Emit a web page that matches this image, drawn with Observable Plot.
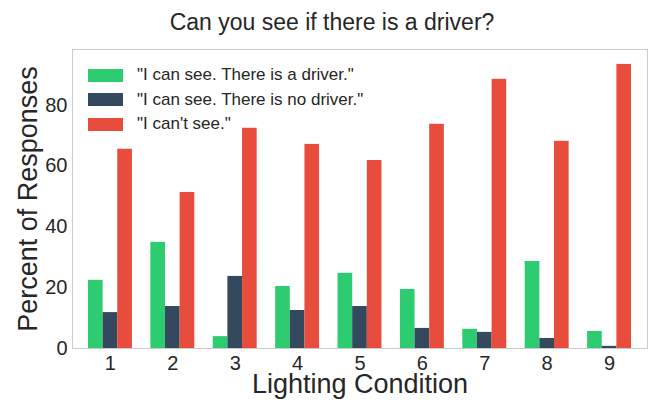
<!DOCTYPE html>
<html>
<head>
<meta charset="utf-8">
<script src="https://cdn.jsdelivr.net/npm/d3@7"></script>
<script src="https://cdn.jsdelivr.net/npm/@observablehq/plot@0.6"></script>
<style>
  body { margin: 0; background: white; }
  #wrap { position: relative; width: 654px; height: 403px; font-family: "Liberation Sans", Arial, sans-serif; color: #262626; }
  #title { height: 44px; line-height: 44px; text-align: center; font-size: 23px; padding-left: 10px; }
  #legend { position: absolute; left: 88px; top: 63px; }
  .row { display: flex; align-items: center; height: 24.5px; font-size: 17px; }
  .sw { width: 35px; height: 13px; margin-right: 14px; }
  svg { display: block; }
</style>
</head>
<body>
<div id="wrap">
  <div id="title">Can you see if there is a driver?</div>
  <div id="chart"></div>
  <div id="legend"></div>
</div>
<script>
const conditions = ["1", "2", "3", "4", "5", "6", "7", "8", "9"];
const seriesNames = ['"I can see. There is a driver."', '"I can see. There is no driver."', '"I can\'t see."'];
const driverSeen = [22.4, 34.9, 3.9, 20.4, 24.7, 19.4, 6.3, 28.6, 5.6];
const noDriver   = [11.8, 13.8, 23.7, 12.5, 13.8, 6.6, 5.3, 3.3, 0.7];
const cantSee    = [65.5, 51.3, 72.4, 67.1, 61.8, 73.7, 88.5, 68.1, 93.4];
const colors = ["#2ecc71", "#34495e", "#e74c3c"];
const yTicks = [0, 20, 40, 60, 80];
const yLabel = "Percent of Responses";
const xLabel = "Lighting Condition";

const W = 654, H = 359, mL = 72, mR = 7, mT = 5, mB = 55;
const padInner = 0.296, padOuter = 0.256;
// same band geometry as Plot's x scale, used only to split each band into three sub-bars
const band = d3.scaleBand().domain(conditions).range([mL, W - mR]).paddingInner(padInner).paddingOuter(padOuter);
const sub = band.bandwidth() / seriesNames.length;

const seriesValues = [driverSeen, noDriver, cantSee];
const textColor = "#262626";

const barMarks = seriesNames.map((s, j) => {
  const data = conditions.map((c, i) => ({condition: c, series: s, value: seriesValues[j][i]}));
  return Plot.barY(data, {
    x: "condition", y: "value", fill: "series",
    insetLeft: j * sub, insetRight: (seriesNames.length - 1 - j) * sub
  });
});

const chart = Plot.plot({
  width: W,
  height: H,
  marginTop: mT,
  marginBottom: mB,
  marginLeft: mL,
  marginRight: mR,
  style: {fontFamily: '"Liberation Sans", Arial, sans-serif', color: textColor, background: "white"},
  x: {type: "band", domain: conditions, paddingInner: padInner, paddingOuter: padOuter, round: false, label: null},
  y: {domain: [0, 98.3], label: null},
  color: {domain: seriesNames, range: colors},
  marks: [
    ...barMarks,
    Plot.axisY({ticks: yTicks, tickSize: 0, tickPadding: 5, fontSize: 20, label: null, fill: textColor}),
    Plot.axisX({tickSize: 0, tickPadding: 7, fontSize: 20, label: null, fill: textColor}),
    Plot.frame({stroke: "#cccccc"}),
    Plot.text([yLabel], {text: d => d, frameAnchor: "left", textAnchor: "middle", lineAnchor: "middle", rotate: -90, dx: -44, fontSize: 27, fill: textColor}),
    Plot.text([xLabel], {text: d => d, frameAnchor: "bottom", textAnchor: "middle", lineAnchor: "middle", dy: 35.5, fontSize: 27, fill: textColor})
  ]
});
document.getElementById("chart").appendChild(chart);

const legend = document.getElementById("legend");
seriesNames.forEach((s, j) => {
  const row = document.createElement("div");
  row.className = "row";
  const sw = document.createElement("div");
  sw.className = "sw";
  sw.style.background = colors[j];
  const t = document.createElement("span");
  t.textContent = s;
  row.appendChild(sw);
  row.appendChild(t);
  legend.appendChild(row);
});
</script>
</body>
</html>
